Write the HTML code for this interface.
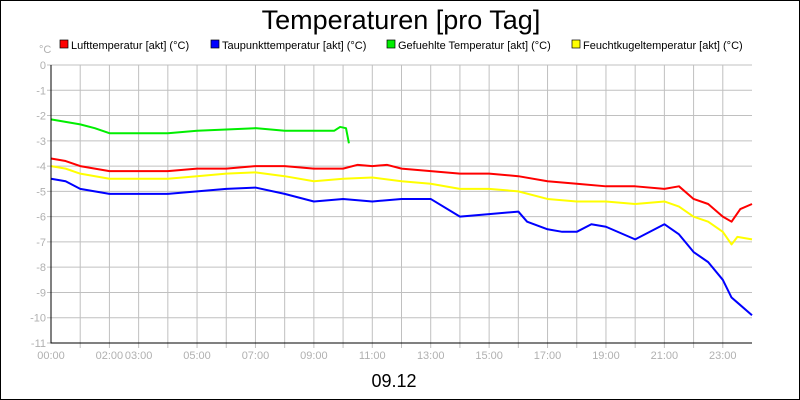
<!DOCTYPE html>
<html><head><meta charset="utf-8"><style>
body{margin:0;background:#fff;font-family:"Liberation Sans",sans-serif}
#c{position:relative;width:800px;height:400px;box-sizing:border-box;border:1px solid #000;overflow:hidden}
</style></head><body>
<div id="c">
<svg id="s" width="800" height="400">
<text x="400" y="28" text-anchor="middle" font-size="27" fill="#000">Temperaturen [pro Tag]</text>
<text x="393" y="386" text-anchor="middle" font-size="18" fill="#000">09.12</text>
<text x="38" y="52" font-size="11" fill="#b0b0b0">°C</text>
<g>
<rect x="59" y="39" width="8" height="8" fill="#ff0000" stroke="#000" stroke-width="0.7"/>
<text x="70" y="48" font-size="11">Lufttemperatur [akt] (°C)</text>
<rect x="210" y="39" width="8" height="8" fill="#0000ff" stroke="#000" stroke-width="0.7"/>
<text x="221" y="48" font-size="11">Taupunkttemperatur [akt] (°C)</text>
<rect x="386" y="39" width="8" height="8" fill="#00ee00" stroke="#000" stroke-width="0.7"/>
<text x="397" y="48" font-size="11">Gefuehlte Temperatur [akt] (°C)</text>
<rect x="571" y="39" width="8" height="8" fill="#ffff00" stroke="#000" stroke-width="0.7"/>
<text x="582" y="48" font-size="11">Feuchtkugeltemperatur [akt] (°C)</text>
</g>
<g id="grid"></g><g id="series"></g><g id="axes"></g>
</svg>
</div>
<script>
const yTicks=[0,-1,-2,-3,-4,-5,-6,-7,-8,-9,-10,-11];
const xLabelHours=[0,2,3,5,7,9,11,13,15,17,19,21,23];
const xLabels=["00:00","02:00","03:00","05:00","07:00","09:00","11:00","13:00","15:00","17:00","19:00","21:00","23:00"];
const luftH=[0,0.5,1,2,3,4,5,6,7,8,9,10,10.5,11,11.5,12,13,14,15,16,17,18,19,20,21,21.5,22,22.5,23,23.3,23.6,24];
const luftV=[-3.7,-3.8,-4.0,-4.2,-4.2,-4.2,-4.1,-4.1,-4.0,-4.0,-4.1,-4.1,-3.95,-4.0,-3.95,-4.1,-4.2,-4.3,-4.3,-4.4,-4.6,-4.7,-4.8,-4.8,-4.9,-4.8,-5.3,-5.5,-6.0,-6.2,-5.7,-5.5];
const taupH=[0,0.5,1,2,3,4,5,6,7,8,9,10,11,12,13,14,15,16,16.3,17,17.5,18,18.5,19,20,21,21.5,22,22.5,23,23.3,23.5,24];
const taupV=[-4.5,-4.6,-4.9,-5.1,-5.1,-5.1,-5.0,-4.9,-4.85,-5.1,-5.4,-5.3,-5.4,-5.3,-5.3,-6.0,-5.9,-5.8,-6.2,-6.5,-6.6,-6.6,-6.3,-6.4,-6.9,-6.3,-6.7,-7.4,-7.8,-8.5,-9.2,-9.4,-9.9];
const feuchtH=[0,0.5,1,2,3,4,5,6,7,8,9,10,11,12,13,14,15,16,17,18,19,20,21,21.5,22,22.5,23,23.3,23.5,24];
const feuchtV=[-4.0,-4.1,-4.3,-4.5,-4.5,-4.5,-4.4,-4.3,-4.25,-4.4,-4.6,-4.5,-4.45,-4.6,-4.7,-4.9,-4.9,-5.0,-5.3,-5.4,-5.4,-5.5,-5.4,-5.6,-6.0,-6.2,-6.6,-7.1,-6.8,-6.9];
const gefH=[0,0.5,1,1.5,2,3,4,5,6,7,8,9,9.7,9.9,10.1,10.2];
const gefV=[-2.15,-2.25,-2.35,-2.5,-2.7,-2.7,-2.7,-2.6,-2.55,-2.5,-2.6,-2.6,-2.6,-2.45,-2.5,-3.1];
const L=50,R=751,T=64,B=342;
const xs=h=>L+h*(R-L)/24, ys=v=>T+(0-v)*(B-T)/11;
const NS="http://www.w3.org/2000/svg";
function mk(tag,attrs,parent){const e=document.createElementNS(NS,tag);for(const k in attrs)e.setAttribute(k,attrs[k]);parent.appendChild(e);return e;}
const grid=document.getElementById('grid'),axes=document.getElementById('axes'),ser=document.getElementById('series');
for(let h=1;h<24;h++){const l=mk('line',{x1:xs(h),x2:xs(h),y1:T,y2:B+5,stroke:'#c0c0c0'},grid);

}
yTicks.forEach(v=>{const l=mk('line',{x1:L-4,x2:R,y1:ys(v),y2:ys(v),stroke:'#c0c0c0'},grid);


const t=mk('text',{x:L-5,y:ys(v)+4,'text-anchor':'end','font-size':'11',fill:'#b0b0b0'},axes);t.textContent=v;

});
xLabelHours.forEach((h,i)=>{const t=mk('text',{x:xs(h),y:B+16,'text-anchor':'middle','font-size':'11',fill:'#b0b0b0'},axes);t.textContent=xLabels[i];

});
const ax=mk('path',{d:`M${L},${T}V${B}H${R}`,fill:'none',stroke:'#000'},axes);


function line(H,V,col,name){const p=mk('polyline',{points:H.map((h,i)=>xs(h)+','+ys(V[i])).join(' '),fill:'none',stroke:col,'stroke-width':2,'stroke-linejoin':'round'},ser);

}
line(feuchtH,feuchtV,'#ffff00','series-feuchtkugel');
line(luftH,luftV,'#ff0000','series-luft');
line(taupH,taupV,'#0000ff','series-taupunkt');
line(gefH,gefV,'#00ee00','series-gefuehlt');
</script>
</body></html>
